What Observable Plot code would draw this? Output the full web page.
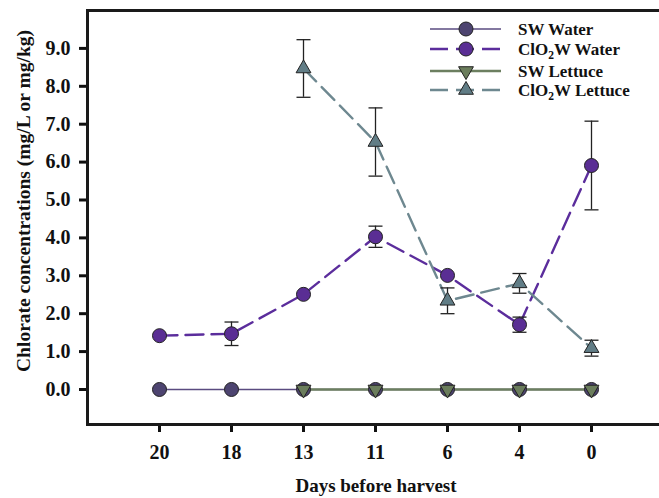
<!DOCTYPE html>
<html><head><meta charset="utf-8">
<script src="https://cdn.jsdelivr.net/npm/d3@7"></script>
<script src="https://cdn.jsdelivr.net/npm/@observablehq/plot@0.6"></script>
<style>
html,body{margin:0;padding:0;background:#fff;overflow:hidden;}
#chart svg{display:block;}
#chart svg text{font-family:"Liberation Serif","Times New Roman",serif !important;font-weight:bold;}
</style></head><body><div id="chart"></div>
<script>
// ---- data ----
const days = ["20","18","13","11","6","4","0"];
const swWater = [0,0,0,0,0,0,0];
const clo2Water = [1.42,1.47,2.51,4.03,3.01,1.71,5.91];
const clo2WaterErr = [0,0.31,0,0.28,0,0.2,1.17];
const swLettuce = [null,null,0,0,0,0,0];
const clo2Lettuce = [null,null,8.47,6.53,2.34,2.80,1.09];
const clo2LettuceErr = [null,null,0.76,0.9,0.34,0.26,0.21];
const seriesNames = ["SW Water","ClO2W Water","SW Lettuce","ClO2W Lettuce"];
const yTicks = [0,1,2,3,4,5,6,7,8,9];
const xTitle = "Days before harvest";
const yTitle = "Chlorate concentrations (mg/L or mg/kg)";

// ---- styles ----
const lineColor = ["#5a4b80","#5b2d9c","#6c7f60","#6e8890"];
const fillColor = ["#4d4470","#5a2e94","#6b7d5c","#617d86"];
const dashes = [null,"18,8",null,"18,8"];
const widths = [1.6,2.4,2.6,2.4];

const triUp = {draw(ctx, size){const a=Math.sqrt(4*size/Math.sqrt(3)),h=a*Math.sqrt(3)/2;ctx.moveTo(0,-2*h/3);ctx.lineTo(a/2,h/3);ctx.lineTo(-a/2,h/3);ctx.closePath();}};
const triDown = {draw(ctx, size){const a=Math.sqrt(4*size/Math.sqrt(3)),h=a*Math.sqrt(3)/2;ctx.moveTo(0,2*h/3);ctx.lineTo(a/2,-h/3);ctx.lineTo(-a/2,-h/3);ctx.closePath();}};
const capSym = {draw(ctx){ctx.moveTo(-7,0);ctx.lineTo(7,0);}};
const symbols = ["circle","circle",triDown,triUp];
const radii = [7,7,5.5,5.5];

const valuesBySeries = [swWater, clo2Water, swLettuce, clo2Lettuce];
const errBySeries = [null, clo2WaterErr, null, clo2LettuceErr];
const series = valuesBySeries.map((vals, s) =>
  days.map((d, i) => ({day: d, value: vals[i], err: errBySeries[s] ? errBySeries[s][i] : 0, s}))
      .filter(r => r.value != null));
const errRows = series.flat().filter(r => r.err > 0)
  .map(r => ({day: r.day, lo: r.value - r.err, hi: r.value + r.err}));

const marks = [];
series.forEach((rows, s) => marks.push(Plot.line(rows, {x:"day", y:"value", stroke: lineColor[s], strokeWidth: widths[s], strokeDasharray: dashes[s]})));
marks.push(Plot.ruleX(errRows, {x:"day", y1:"lo", y2:"hi", stroke:"#222", strokeWidth:1.3}));
marks.push(Plot.dot(errRows, {x:"day", y:"lo", symbol: capSym, fill:"none", stroke:"#222", strokeWidth:1.3}));
marks.push(Plot.dot(errRows, {x:"day", y:"hi", symbol: capSym, fill:"none", stroke:"#222", strokeWidth:1.3}));
series.forEach((rows, s) => marks.push(Plot.dot(rows, {x:"day", y:"value", symbol: symbols[s], r: radii[s], fill: fillColor[s], stroke:"#222", strokeWidth:1})));
marks.push(Plot.frame({stroke:"#1a1a1a", strokeWidth:3}));

const chart = Plot.plot({
  width: 659, height: 498,
  marginLeft: 87, marginRight: -3, marginTop: 10, marginBottom: 74,
  style: {fontFamily: "'Liberation Serif', 'Times New Roman', serif", fontWeight: "bold", fontSize: "20px", color: "#111", background: "#fff"},
  x: {type: "point", domain: days, padding: 0.984, tickSize: 8, tickPadding: 12, label: null},
  y: {domain: [-0.924, 10], ticks: yTicks, tickFormat: d => d.toFixed(1), tickSize: 8, tickPadding: 9, label: null},
  marks
});
document.getElementById("chart").appendChild(chart);

const svg = d3.select(chart);
svg.selectAll("g[aria-label$='-axis tick'], .tick line").attr("stroke-width", 3).style("stroke-width", "3px");

// axis titles
svg.append("text").attr("transform", "translate(23,201) rotate(-90)")
  .attr("text-anchor", "middle").attr("dominant-baseline", "central")
  .attr("font-size", 19.5).attr("font-weight", "bold").attr("fill", "#111").text(yTitle);
svg.append("text").attr("x", 376).attr("y", 492).attr("text-anchor", "middle")
  .attr("font-size", 19).attr("font-weight", "bold").attr("fill", "#111").text(xTitle);

// legend
const legY = [29, 49, 71, 90];
const leg = svg.append("g").attr("text-anchor", "start");
seriesNames.forEach((name, s) => {
  const y = legY[s];
  leg.append("line").attr("x1", 430).attr("x2", 501).attr("y1", y).attr("y2", y)
    .attr("stroke", lineColor[s]).attr("stroke-width", widths[s])
    .attr("stroke-dasharray", dashes[s]);
  const sym = d3.symbol().type(typeof symbols[s] === "string" ? d3.symbolCircle : symbols[s]).size(Math.PI * radii[s] * radii[s]);
  leg.append("path").attr("d", sym()).attr("transform", `translate(466,${y})`)
    .attr("fill", fillColor[s]).attr("stroke", "#222").attr("stroke-width", 1);
  const t = leg.append("text").attr("x", 518).attr("y", y + 5.5).attr("text-anchor", "start")
    .attr("font-size", 17).attr("font-weight", "bold").attr("fill", "#111");
  const m = name.match(/^ClO2(.*)$/);
  if (m) {
    t.append("tspan").text("ClO");
    t.append("tspan").attr("font-size", 11.5).attr("dy", 4).text("2");
    t.append("tspan").attr("dy", -4).text(m[1]);
  } else t.text(name);
});
</script></body></html>
